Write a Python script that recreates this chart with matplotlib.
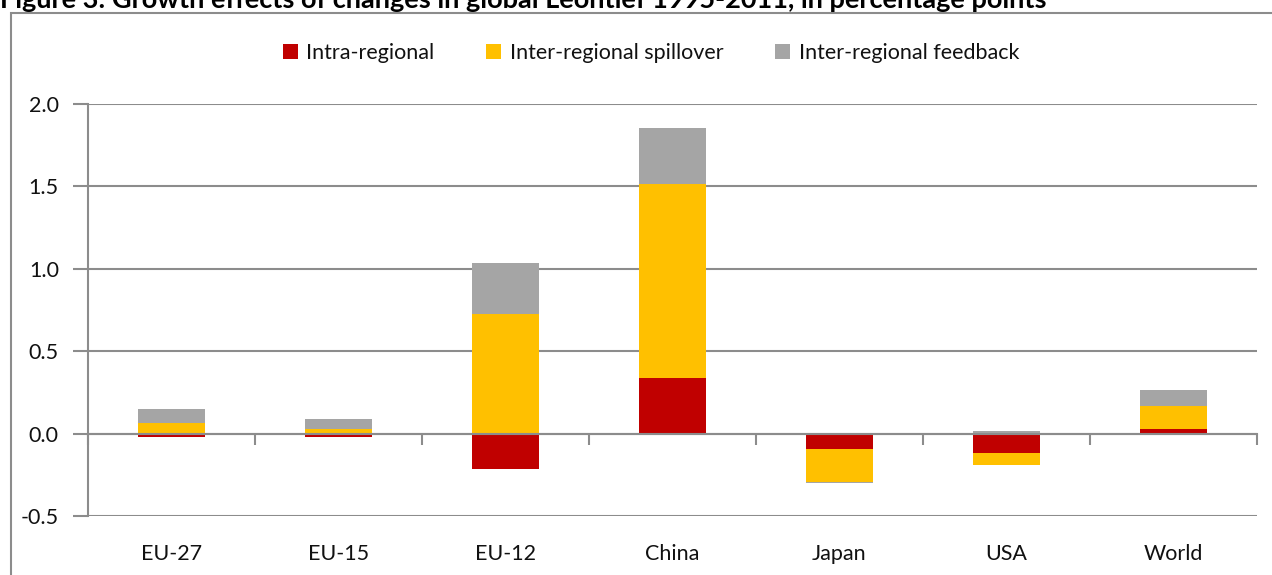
import numpy as np
import matplotlib
matplotlib.use("Agg")
import matplotlib.pyplot as plt
from matplotlib.patches import Rectangle, Patch

categories = ["EU-27", "EU-15", "EU-12", "China", "Japan", "USA", "World"]
intra = [-0.02, -0.02, -0.214, 0.34, -0.093, -0.115, 0.028]
spill = [0.065, 0.028, 0.727, 1.173, -0.20, -0.073, 0.142]
feedback = [0.085, 0.061, 0.309, 0.34, -0.005, 0.014, 0.097]
series_names = ["Intra-regional", "Inter-regional spillover", "Inter-regional feedback"]
colors = ["#C00000", "#FFC000", "#A5A5A5"]
yticks = [-0.5, 0.0, 0.5, 1.0, 1.5, 2.0]
title = "Figure 3: Growth effects of changes in global Leontief 1995-2011, in percentage points"

plt.rcParams['font.family'] = ['Lato', 'DejaVu Sans']
W, H = 1272, 575
fig = plt.figure(figsize=(W / 100, H / 100), dpi=100)

# outer border box
fig.patches.append(Rectangle((11 / W, -0.01), 1.02, 1 - 13 / H + 0.01, transform=fig.transFigure,
                             fill=False, edgecolor="#8c8c8c", linewidth=1.5))
fig.text(0.0, 1 - 8 / H, title, fontsize=19.5, fontweight='bold', ha='left', va='baseline',
         color='#000000')

ax = fig.add_axes([88 / W, 1 - 516 / H, (1257 - 88) / W, (516 - 104) / H])
x = np.arange(len(categories))
pos_bottom = np.zeros(len(categories))
neg_bottom = np.zeros(len(categories))
for vals, c, name in zip([intra, spill, feedback], colors, series_names):
    v = np.array(vals)
    bottom = np.where(v >= 0, pos_bottom, neg_bottom)
    ax.bar(x, v, width=0.4, bottom=bottom, color=c, edgecolor='none', zorder=3, label=name)
    pos_bottom = pos_bottom + np.where(v >= 0, v, 0)
    neg_bottom = neg_bottom + np.where(v < 0, v, 0)

ax.set_xlim(-0.5, len(categories) - 0.5)
ax.set_ylim(-0.5, 2.0)
ax.set_yticks(yticks)
ax.set_yticklabels([f"{t:.1f}" for t in yticks])
ax.yaxis.grid(True, color="#8c8c8c", linewidth=1.5, zorder=0)
ax.set_axisbelow(True)
for s in ["top", "right"]:
    ax.spines[s].set_visible(False)
ax.spines["left"].set_color("#8c8c8c")
ax.spines["left"].set_linewidth(1.5)
ax.spines["bottom"].set_position(("data", 0))
ax.spines["bottom"].set_color("#8c8c8c")
ax.spines["bottom"].set_linewidth(1.5)
ax.spines["bottom"].set_zorder(4)
ax.tick_params(axis='y', length=11, width=1.5, color="#8c8c8c", pad=10, labelsize=15.5,
               labelcolor="#111111")
ax.set_xticks(np.arange(len(categories) + 1) - 0.5)
ax.set_xticklabels([])
ax.tick_params(axis='x', length=8, width=1.5, color="#8c8c8c")

sec = ax.secondary_xaxis(0)
sec.set_xticks(x)
sec.set_xticklabels(categories)
sec.tick_params(length=0, pad=20, labelsize=15.5, labelcolor="#111111")
sec.spines["bottom"].set_visible(False)

handles = [Patch(facecolor=c, edgecolor='none') for c in colors]
fig.legend(handles, series_names, loc='center', bbox_to_anchor=(651 / W, 1 - 53 / H), ncol=3,
           frameon=False, fontsize=15.5, handlelength=0.7, handleheight=0.7, handletextpad=0.4,
           columnspacing=2.4, labelcolor="#111111")

fig.savefig("out.png", dpi=100)
